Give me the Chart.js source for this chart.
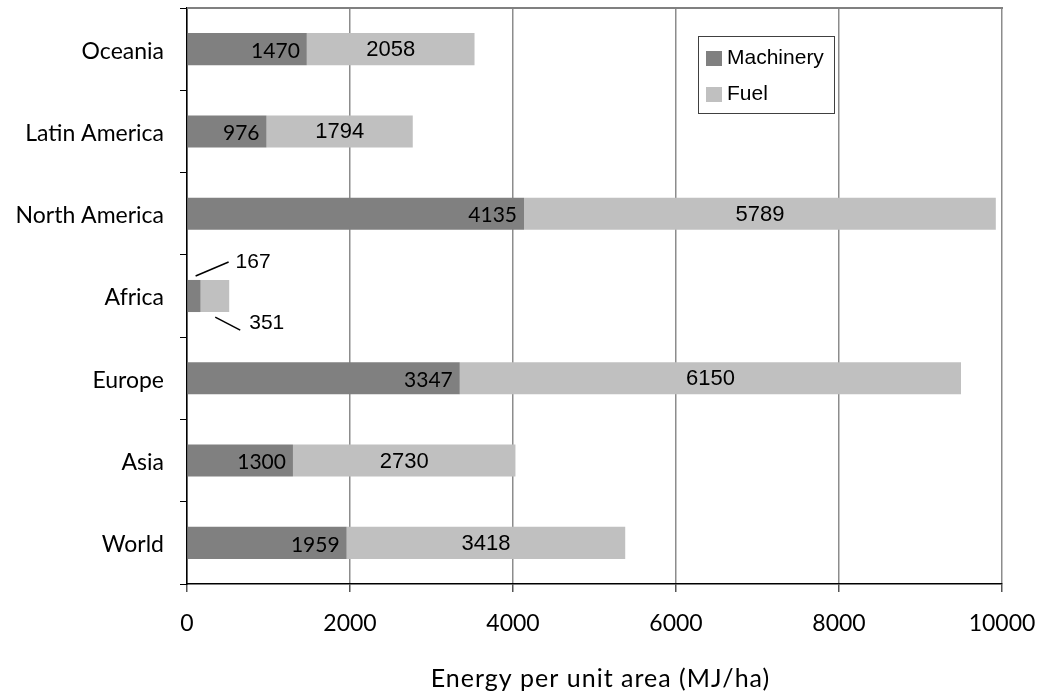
<!DOCTYPE html>
<html>
<head>
<meta charset="utf-8">
<script src="https://cdn.jsdelivr.net/npm/chart.js@4.4.0/dist/chart.umd.min.js"></script>
<style>
  html, body { margin: 0; padding: 0; background: #ffffff; }
  #wrap { width: 1047px; height: 695px; position: relative; }
</style>
</head>
<body>
<div id="wrap"><canvas id="c" width="1047" height="695"></canvas></div>
<script>
const categories = ['Oceania', 'Latin America', 'North America', 'Africa', 'Europe', 'Asia', 'World'];
const machinery = [1470, 976, 4135, 167, 3347, 1300, 1959];
const fuel = [2058, 1794, 5789, 351, 6150, 2730, 3418];
const xTicks = [0, 2000, 4000, 6000, 8000, 10000];
const seriesNames = ['Machinery', 'Fuel'];
const axisTitle = 'Energy per unit area (MJ/ha)';

const MACH_COLOR = '#808080';
const FUEL_COLOR = '#c0c0c0';
const calloutIndex = categories.indexOf('Africa');

function zeroPad(scale) {
  scale.paddingTop = 0; scale.paddingBottom = 0;
  scale.paddingLeft = 0; scale.paddingRight = 0;
}

const labelPlugin = {
  id: 'labels',
  afterDatasetsDraw(chart) {
    const ctx = chart.ctx;
    const area = chart.chartArea;
    const m0 = chart.getDatasetMeta(0).data;
    const m1 = chart.getDatasetMeta(1).data;
    ctx.save();
    // top border of plot area
    ctx.strokeStyle = '#808080';
    ctx.lineWidth = 2;
    ctx.beginPath();
    ctx.moveTo(area.left, area.top);
    ctx.lineTo(area.right + 1, area.top);
    ctx.stroke();

    ctx.fillStyle = '#000';
    for (let i = 0; i < categories.length; i++) {
      const b0 = m0[i], b1 = m1[i];
      if (i === calloutIndex) {
        const top = b0.y - b0.height / 2;
        const bottom = b0.y + b0.height / 2;
        ctx.strokeStyle = '#000';
        ctx.lineWidth = 1.5;
        ctx.beginPath();
        ctx.moveTo(b0.x - 5, top - 4);
        ctx.lineTo(b0.x + 28, top - 18);
        ctx.stroke();
        ctx.beginPath();
        ctx.moveTo(b1.x - 14, bottom + 5);
        ctx.lineTo(b1.x + 11, bottom + 18);
        ctx.stroke();
        ctx.font = '21px "Liberation Sans", Arial, sans-serif';
        ctx.textAlign = 'left';
        ctx.textBaseline = 'middle';
        ctx.fillText(String(machinery[i]), b0.x + 35, top - 18);
        ctx.fillText(String(fuel[i]), b1.x + 20, bottom + 11);
        continue;
      }
      ctx.font = '21px Lato, "Open Sans", sans-serif';
      ctx.textAlign = 'right';
      ctx.textBaseline = 'middle';
      ctx.fillText(String(machinery[i]), b0.x - 7, b0.y + 2);
      ctx.font = '22px "Liberation Sans", Arial, sans-serif';
      ctx.textAlign = 'center';
      ctx.fillText(String(fuel[i]), (b1.base + b1.x) / 2, b1.y + 1);
    }

    // legend box
    const lx = 698, ly = 36, lw = 136, lh = 77;
    ctx.fillStyle = '#fff';
    ctx.fillRect(lx, ly, lw, lh);
    ctx.strokeStyle = '#404040';
    ctx.lineWidth = 1;
    ctx.strokeRect(lx + 0.5, ly + 0.5, lw, lh);
    const colors = [MACH_COLOR, FUEL_COLOR];
    const rows = [58, 94];
    ctx.font = '21px "Liberation Sans", Arial, sans-serif';
    ctx.textAlign = 'left';
    ctx.textBaseline = 'middle';
    for (let k = 0; k < seriesNames.length; k++) {
      ctx.fillStyle = colors[k];
      ctx.fillRect(706, rows[k] - 7, 16, 15);
      ctx.fillStyle = '#000';
      ctx.fillText(seriesNames[k], 727, rows[k]);
    }

    // x axis title
    ctx.font = '25px Lato, "Open Sans", sans-serif';
    ctx.letterSpacing = '1px';
    ctx.textAlign = 'center';
    ctx.textBaseline = 'alphabetic';
    ctx.fillStyle = '#000';
    ctx.fillText(axisTitle, (area.left + area.right) / 2 + 6, 687);
    ctx.restore();
  }
};

new Chart(document.getElementById('c'), {
  type: 'bar',
  data: {
    labels: categories,
    datasets: [
      { label: seriesNames[0], data: machinery, backgroundColor: MACH_COLOR, borderWidth: 0,
        barPercentage: 0.39, categoryPercentage: 1.0 },
      { label: seriesNames[1], data: fuel, backgroundColor: FUEL_COLOR, borderWidth: 0,
        barPercentage: 0.39, categoryPercentage: 1.0 }
    ]
  },
  options: {
    indexAxis: 'y',
    responsive: false,
    animation: false,
    devicePixelRatio: 1,
    layout: { padding: { left: 0, top: 8, right: 45, bottom: 0 } },
    plugins: { legend: { display: false }, tooltip: { enabled: false } },
    scales: {
      x: {
        stacked: true,
        min: 0, max: 10000,
        afterBuildTicks(scale) { scale.ticks = xTicks.map(v => ({ value: v })); },
        afterFit(scale) { scale.height = 111; zeroPad(scale); },
        border: { display: true, color: '#000', width: 1.5 },
        grid: { color: '#8c8c8c', lineWidth: 1.5, tickLength: 8, tickColor: '#555', drawTicks: true },
        ticks: { color: '#000', font: { family: 'Lato', size: 23 }, padding: 18, maxRotation: 0,
                 callback: (v) => String(v) },
        title: { display: false }
      },
      y: {
        stacked: true,
        afterFit(scale) { scale.width = 187; zeroPad(scale); },
        border: { display: true, color: '#000', width: 1.5 },
        grid: { offset: true, drawOnChartArea: false, tickLength: 7, color: '#000', lineWidth: 1 },
        ticks: { color: '#000', font: { family: 'Lato', size: 23 }, padding: 16, labelOffset: 2 }
      }
    }
  },
  plugins: [labelPlugin]
});
</script>
</body>
</html>
